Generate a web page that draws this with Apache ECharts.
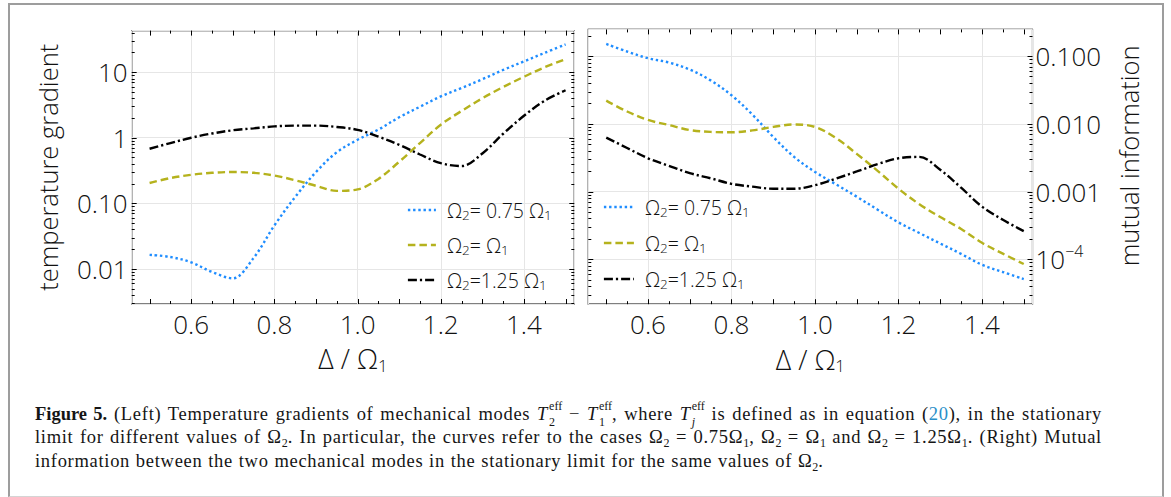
<!DOCTYPE html>
<html>
<head>
<meta charset="utf-8">
<script src="https://cdn.jsdelivr.net/npm/echarts@6/dist/echarts.min.js"></script>
<style>
  html, body { margin: 0; padding: 0; background: #fff; }
  #wrap { position: relative; width: 1171px; height: 497px; overflow: hidden; background: #fff; }
  #chart { position: absolute; left: 0; top: 0; width: 1171px; height: 497px; }
  #box { position: absolute; left: 8px; top: 3px; width: 1152px; height: 491px;
         border: 2px solid #9d9d9d; border-bottom: 1px solid #d4d4d4; pointer-events: none; }
  #caption { position: absolute; left: 35px; top: 403px; width: 1067px;
             font-family: "Liberation Serif", "DejaVu Serif", serif; font-size: 18.5px;
             letter-spacing: 0.7px; word-spacing: 0.5px;
             line-height: 23.4px; color: #151515; }
  #caption .j { text-align: justify; text-align-last: justify; }
  #caption b { font-weight: bold; letter-spacing: 0; }
  #caption sub { font-size: 12px; vertical-align: -4px; line-height: 0; letter-spacing: 0; }
  #caption .st { display: inline-block; position: relative; width: 14px; height: 16px; vertical-align: baseline; letter-spacing: 0; }
  #caption .st .up { position: absolute; left: 1px; top: -4px; font-size: 12px; line-height: 12px; }
  #caption .st .dn { position: absolute; left: 1px; top: 12px; font-size: 12px; line-height: 12px; }
  #caption .ref { color: #2a8fc9; }
</style>
</head>
<body>
<div id="wrap">
  <div id="chart"></div>
  <div id="caption">
    <div class="j"><b>Figure 5.</b> (Left) Temperature gradients of mechanical modes <i>T</i><span class="st"><span class="up">eff</span><span class="dn">2</span></span> &minus; <i>T</i><span class="st"><span class="up">eff</span><span class="dn">1</span></span>, where <i>T</i><span class="st"><span class="up">eff</span><span class="dn"><i>j</i></span></span> is defined as in equation (<span class="ref">20</span>), in the stationary</div>
    <div class="j">limit for different values of &Omega;<sub>2</sub>. In particular, the curves refer to the cases &Omega;<sub>2</sub> = 0.75&Omega;<sub>1</sub>, &Omega;<sub>2</sub> = &Omega;<sub>1</sub> and &Omega;<sub>2</sub> = 1.25&Omega;<sub>1</sub>. (Right) Mutual</div>
    <div>information between the two mechanical modes in the stationary limit for the same values of &Omega;<sub>2</sub>.</div>
  </div>
  <div id="box"></div>
</div>
<script>
// Detuning Δ/Ω1 at which both quantities are sampled
const detuning = [0.50, 0.55, 0.60, 0.65, 0.70, 0.75, 0.80, 0.85, 0.90, 0.95, 1.00,
                  1.05, 1.10, 1.15, 1.20, 1.25, 1.30, 1.35, 1.40, 1.45, 1.50];

// Left panel: temperature gradient T2eff - T1eff
const gradBlue   = [0.0164, 0.0152, 0.0126, 0.0090, 0.0072, 0.0147, 0.046, 0.125, 0.30, 0.60, 0.93,
                    1.33, 2.05, 2.97, 4.26, 5.74, 7.8, 10.8, 14.6, 19.7, 26.5];
const gradYellow = [0.204, 0.243, 0.272, 0.292, 0.300, 0.292, 0.265, 0.225, 0.185, 0.155, 0.163,
                    0.236, 0.43, 0.83, 1.58, 2.56, 4.0, 5.93, 8.5, 11.9, 15.8];
const gradBlack  = [0.68, 0.83, 1.00, 1.16, 1.30, 1.39, 1.49, 1.53, 1.53, 1.46, 1.32,
                    1.04, 0.78, 0.555, 0.41, 0.37, 0.575, 1.15, 2.16, 3.68, 5.3];

// Right panel: mutual information
const infoBlue   = [0.151, 0.117, 0.093, 0.0805, 0.0634, 0.0438, 0.0264, 0.0137, 0.0064, 0.00325, 0.00195,
                    0.00128, 0.00084, 0.00054, 0.00035, 0.000244, 0.000171, 0.00012, 0.000083, 0.0000648, 0.000051];
const infoYellow = [0.022, 0.0152, 0.0114, 0.0096, 0.0081, 0.0076, 0.0075, 0.0080, 0.0090, 0.0098, 0.0090,
                    0.0062, 0.0036, 0.00202, 0.0011, 0.00065, 0.00042, 0.00028, 0.000175, 0.000121, 0.000085];
const infoBlack  = [0.00625, 0.0044, 0.0031, 0.0024, 0.00187, 0.00157, 0.0013, 0.00118, 0.0011, 0.0011, 0.00124,
                    0.00155, 0.00198, 0.00254, 0.0031, 0.00325, 0.0021, 0.00114, 0.0006, 0.000383, 0.00026];

const seriesNames = ['Ω2 = 0.75 Ω1', 'Ω2 = Ω1', 'Ω2 = 1.25 Ω1'];
const legendLabels = ['{o|Ω}{s|2}{o|= 0.75 Ω}{s|1}', '{o|Ω}{s|2}{o|= Ω}{s|1}', '{o|Ω}{s|2}{o|=1.25 Ω}{s|1}'];

// Axis extents and tick labels
const deltaRange = [0.457, 1.521];
const gradRange = [0.00292, 43];
const infoRange = [0.0000217, 0.248];
const gradDecades = [0.01, 0.1, 1, 10];
const gradTickLabels = ['0.01', '0.10', '1', '10'];
const infoDecades = [0.0001, 0.001, 0.01, 0.1];
const infoTickLabels = ['{b|10}{p|−4}', '0.001', '0.010', '0.100'];
const deltaTicks = [0.50, 0.55, 0.60, 0.65, 0.70, 0.75, 0.80, 0.85, 0.90, 0.95, 1.00,
                    1.05, 1.10, 1.15, 1.20, 1.25, 1.30, 1.35, 1.40, 1.45, 1.50];
const logMantissas = [1, 2, 3, 4, 5, 6, 7, 8, 9];

const FONT = '"Open Sans", "Noto Sans", sans-serif';
const WEIGHT = 300;
const INK = '#111111';
const COLORS = ['#1f8dff', '#b5b21d', '#000000'];
const DASHES = [[2.4, 2.8], [7.5, 4], [9, 3, 2.2, 3]];

function decadeLabel(decades, labels) {
  return function (v) {
    const e = Math.log10(v);
    const r = Math.round(e);
    if (Math.abs(e - r) > 1e-6) return '';
    for (let i = 0; i < decades.length; i++) {
      if (Math.round(Math.log10(decades[i])) === r) return labels[i];
    }
    return '';
  };
}

// inward frame ticks on all four sides, positioned through the axes
function logTickValues(range) {
  const out = [];
  for (let k = Math.floor(Math.log10(range[0])); k <= Math.ceil(Math.log10(range[1])); k++) {
    logMantissas.forEach(function (m) {
      const v = m * Math.pow(10, k);
      if (v >= range[0] && v <= range[1]) out.push([v, m === 1 ? 5 : 3]);
    });
  }
  return out;
}
function tickSeries(idx, yRange) {
  const yMid = Math.sqrt(yRange[0] * yRange[1]);
  const data = [];
  deltaTicks.forEach(function (x) {
    const major = Math.abs(x * 10 - Math.round(x * 10)) < 1e-6;
    data.push([x, yMid, 0, major ? 5 : 3]);
  });
  logTickValues(yRange).forEach(function (t) { data.push([1.0, t[0], 1, t[1]]); });
  return {
    type: 'custom', name: 'frameTicks' + idx, xAxisIndex: idx, yAxisIndex: idx,
    silent: true, clip: false, z: 5, data: data,
    renderItem: function (params, api) {
      const cs = params.coordSys;
      const p = api.coord([api.value(0), api.value(1)]);
      const len = api.value(3);
      const st = { stroke: '#000', lineWidth: 1 };
      if (api.value(2) === 0) {
        const x = Math.round(p[0]) + 0.5, yb = cs.y + cs.height, yt = cs.y;
        return { type: 'group', children: [
          { type: 'line', shape: { x1: x, y1: yb, x2: x, y2: yb - len }, style: st },
          { type: 'line', shape: { x1: x, y1: yt, x2: x, y2: yt + len }, style: st }
        ] };
      }
      const y = Math.round(p[1]) + 0.5, xl = cs.x, xr = cs.x + cs.width;
      return { type: 'group', children: [
        { type: 'line', shape: { x1: xl, y1: y, x2: xl + len, y2: y }, style: st },
        { type: 'line', shape: { x1: xr, y1: y, x2: xr - len, y2: y }, style: st }
      ] };
    }
  };
}

function curve(idx, k, values) {
  return {
    type: 'line', name: seriesNames[k], xAxisIndex: idx, yAxisIndex: idx,
    data: detuning.map(function (x, i) { return [x, values[i]]; }),
    smooth: 0.35, symbol: 'none', showSymbol: false, z: 3,
    lineStyle: { color: COLORS[k], width: 2.4, type: DASHES[k], cap: 'butt' },
    itemStyle: { color: COLORS[k] },
    emphasis: { disabled: true }
  };
}

const subRich = {
  o: { fontFamily: FONT, fontWeight: WEIGHT, fontSize: 19.5, lineHeight: 23, color: INK },
  s: { fontFamily: FONT, fontWeight: WEIGHT, fontSize: 13.5, lineHeight: 13, padding: [10, 0, 0, 0], color: INK }
};
function legendFor(idx, left, top, iconW, gap) {
  return {
    show: true, orient: 'vertical', left: left, top: top, padding: 0,
    itemWidth: iconW, itemHeight: 14, itemGap: gap, selectedMode: false,
    data: seriesNames,
    formatter: function (name) { return legendLabels[seriesNames.indexOf(name)]; },
    lineStyle: { width: 2.4, type: 'inherit' },
    itemStyle: { opacity: 0, borderWidth: 0 },
    textStyle: { fontFamily: FONT, fontWeight: WEIGHT, fontSize: 19.5, color: INK,
                 padding: [0, 0, 0, 6], rich: subRich }
  };
}

function xAxisFor(idx) {
  return {
    type: 'value', gridIndex: idx, min: deltaRange[0], max: deltaRange[1], splitNumber: 5,
    axisLine: { show: false }, axisTick: { show: false },
    splitLine: { show: true, lineStyle: { color: '#e6e6e6', width: 1 } },
    axisLabel: { show: true, margin: 5, fontFamily: FONT, fontWeight: WEIGHT, fontSize: 26, color: INK, lineHeight: 30,
                 showMinLabel: false, showMaxLabel: false,
                 formatter: function (v) { return v.toFixed(1); } },
    name: '{o|Δ / Ω}{s|1}', nameLocation: 'middle', nameGap: 35,
    nameTextStyle: { rich: {
      o: { fontFamily: FONT, fontWeight: WEIGHT, fontSize: 27, lineHeight: 32, color: INK },
      s: { fontFamily: FONT, fontWeight: WEIGHT, fontSize: 17, lineHeight: 19, padding: [13, 0, 0, 0], color: INK }
    } }
  };
}

const option = {
  animation: false,
  backgroundColor: '#fff',
  grid: [
    { left: 131.7, top: 30.6, width: 442.6, height: 273.4, show: true, borderColor: '#000', borderWidth: 1.2,
      backgroundColor: 'transparent', containLabel: false, outerBoundsMode: 'none' },
    { left: 588.3, top: 29.4, width: 444.2, height: 274.8, show: true, borderColor: '#000', borderWidth: 1.2,
      backgroundColor: 'transparent', containLabel: false, outerBoundsMode: 'none' }
  ],
  xAxis: [xAxisFor(0), xAxisFor(1)],
  yAxis: [
    { type: 'log', logBase: 10, gridIndex: 0, position: 'left', min: gradRange[0], max: gradRange[1],
      axisLine: { show: false }, axisTick: { show: false },
      splitLine: { show: true, lineStyle: { color: '#e6e6e6', width: 1 } },
      minorTick: { show: false }, minorSplitLine: { show: false },
      axisLabel: { margin: 4, fontFamily: FONT, fontWeight: WEIGHT, fontSize: 26, color: INK, lineHeight: 30,
                   showMinLabel: false, showMaxLabel: false,
                   formatter: decadeLabel(gradDecades, gradTickLabels) },
      name: 'temperature gradient', nameLocation: 'middle', nameRotate: 90, nameGap: 70,
      nameTextStyle: { fontFamily: FONT, fontWeight: WEIGHT, fontSize: 25.5, color: INK, lineHeight: 28 } },
    { type: 'log', logBase: 10, gridIndex: 1, position: 'right', min: infoRange[0], max: infoRange[1],
      axisLine: { show: false }, axisTick: { show: false },
      splitLine: { show: true, lineStyle: { color: '#e6e6e6', width: 1 } },
      minorTick: { show: false }, minorSplitLine: { show: false },
      axisLabel: { margin: 3, fontFamily: FONT, fontWeight: WEIGHT, fontSize: 26, color: INK, lineHeight: 30,
                   showMinLabel: false, showMaxLabel: false,
                   formatter: decadeLabel(infoDecades, infoTickLabels),
                   rich: {
                     b: { fontFamily: FONT, fontWeight: WEIGHT, fontSize: 26, lineHeight: 32, color: INK },
                     p: { fontFamily: FONT, fontWeight: WEIGHT, fontSize: 16, lineHeight: 16, padding: [0, 0, 16, 0], color: INK }
                   } },
      name: 'mutual information', nameLocation: 'middle', nameRotate: 90, nameGap: 82,
      nameTextStyle: { fontFamily: FONT, fontWeight: WEIGHT, fontSize: 25.5, color: INK, lineHeight: 28, padding: [0, 0, 0, 22] } }
  ],
  legend: [legendFor(0, 406.7, 198, 28, 11), legendFor(1, 602.7, 195, 30, 12)],
  series: [
    curve(0, 0, gradBlue), curve(0, 1, gradYellow), curve(0, 2, gradBlack),
    curve(1, 0, infoBlue), curve(1, 1, infoYellow), curve(1, 2, infoBlack),
    tickSeries(0, gradRange), tickSeries(1, infoRange)
  ]
};

const chart = echarts.init(document.getElementById('chart'), null, { renderer: 'svg' });
chart.setOption(option);
</script>
</body>
</html>
